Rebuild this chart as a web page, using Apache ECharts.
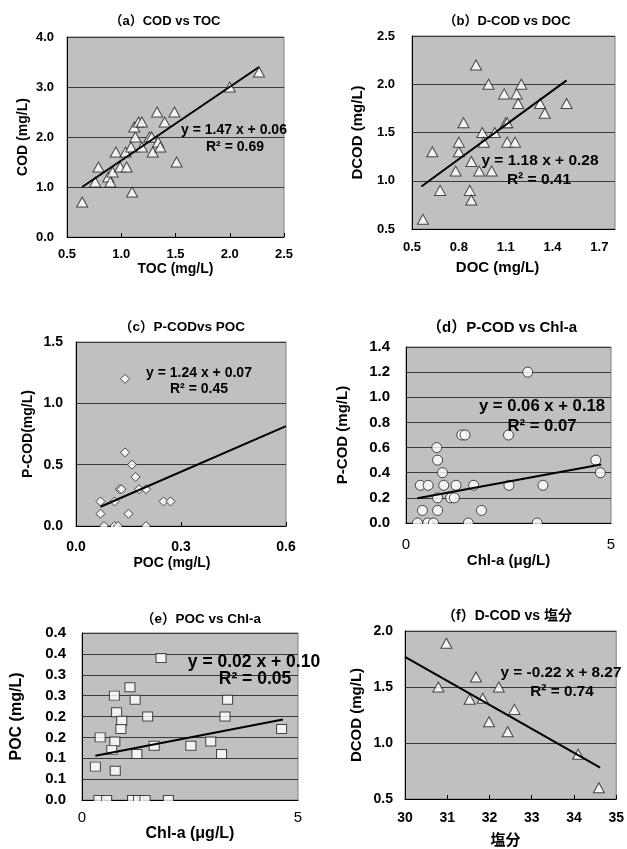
<!DOCTYPE html>
<html><head><meta charset="utf-8">
<script src="https://cdn.jsdelivr.net/npm/echarts@6/dist/echarts.min.js"></script>
<style>html,body{margin:0;padding:0;background:#fff}#c{width:627px;height:849px}</style>
</head><body><div id="c"></div>
<script>
// ---------- DATA ----------
const aX = [0.64,0.76,0.79,0.88,0.90,0.92,0.95,0.99,1.05,1.04,1.09,1.10,1.13,1.12,1.16,1.19,1.19,1.26,1.28,1.29,1.33,1.34,1.36,1.40,1.49,1.51,2.00,2.27];
const aY = [0.7,1.1,1.4,1.2,1.1,1.3,1.7,1.4,1.4,1.7,1.8,0.9,2.0,2.2,2.3,2.3,1.8,2.0,2.0,1.7,2.5,1.9,1.8,2.3,2.5,1.5,3.0,3.3];
const aTrendX = [0.64, 2.27];
const aTrendY = [1.00, 3.40];

const bX = [0.57,0.63,0.68,0.78,0.80,0.80,0.83,0.87,0.88,0.88,0.91,0.93,0.95,0.96,0.99,1.01,1.03,1.09,1.10,1.11,1.11,1.16,1.17,1.18,1.20,1.32,1.35,1.49];
const bY = [0.6,1.3,0.9,1.1,1.3,1.4,1.6,0.9,1.2,0.8,2.2,1.1,1.5,1.4,2.0,1.1,1.5,1.9,1.6,1.6,1.4,1.4,1.9,1.8,2.0,1.8,1.7,1.8];
const bTrendX = [0.56, 1.49];
const bTrendY = [0.94, 2.04];
const bXTickLabels = ['0.5','0.8','1.1','1.4','1.7'];

const cX = [0.14,0.14,0.16,0.17,0.125,0.13,0.18,0.20,0.07,0.11,0.25,0.27,0.07,0.15,0.08,0.11,0.12,0.20];
const cY = [1.2,0.6,0.5,0.4,0.3,0.3,0.3,0.3,0.2,0.2,0.2,0.2,0.1,0.1,0,0,0,0];
const cTrendX = [0.07, 0.60];
const cTrendY = [0.157, 0.814];

const dX = [2.97,1.36,1.44,2.50,0.75,0.77,4.63,0.89,4.74,0.35,0.54,0.92,1.22,1.65,2.51,3.34,0.77,1.09,1.18,0.40,0.77,1.84,0.28,0.53,0.67,1.52,3.20];
const dY = [1.2,0.7,0.7,0.7,0.6,0.5,0.5,0.4,0.4,0.3,0.3,0.3,0.3,0.3,0.3,0.3,0.2,0.2,0.2,0.1,0.1,0.1,0,0,0,0,0];
const dTrendX = [0.28, 4.76];
const dTrendY = [0.197, 0.466];

const eX = [1.83,1.11,0.75,1.23,3.37,0.80,1.52,3.31,0.92,0.90,0.42,0.76,0.69,1.67,2.52,2.98,1.27,3.23,4.62,0.31,0.77,0.39,0.57,1.17,1.31,1.46,2.00];
const eY = [0.34,0.27,0.25,0.24,0.24,0.21,0.20,0.20,0.19,0.17,0.15,0.14,0.12,0.13,0.13,0.14,0.11,0.11,0.17,0.08,0.07,0,0,0,0,0,0];
const eTrendX = [0.31, 4.65];
const eTrendY = [0.106, 0.193];
const eYTickLabels = ['0.0','0.1','0.1','0.2','0.2','0.3','0.3','0.4','0.4'];

const fX = [30.98,30.79,31.68,32.22,31.53,31.84,32.59,31.99,32.43,34.10,34.59];
const fY = [1.89,1.50,1.59,1.50,1.39,1.40,1.30,1.19,1.10,0.90,0.60];
const fTrendX = [30.0, 34.62];
const fTrendY = [1.77, 0.78];

const titles = ['（a）COD vs TOC','（b）D-COD vs DOC','（c）P-CODvs POC','（d）P-COD vs Chl-a','（e）POC vs Chl-a','（f）D-COD vs 塩分'];
const xNames = ['TOC (mg/L)','DOC (mg/L)','POC (mg/L)','Chl-a (μg/L)','Chl-a (μg/L)','塩分'];
const yNames = ['COD (mg/L)','DCOD (mg/L)','P-COD(mg/L)','P-COD (mg/L)','POC (mg/L)','DCOD (mg/L)'];
const equations = ['y = 1.47 x + 0.06','y = 1.18 x + 0.28','y = 1.24 x + 0.07','y = 0.06 x + 0.18','y = 0.02 x + 0.10','y = -0.22 x + 8.27'];
const rSquared = ['R² = 0.69','R² = 0.41','R² = 0.45','R² = 0.07','R² = 0.05','R² = 0.74'];

// ---------- LAYOUT / STYLE ----------
const FONT = '"Liberation Sans", Arial, "Noto Sans CJK JP", sans-serif';
const panels = [
  {xs:aX, ys:aY, tx:aTrendX, ty:aTrendY, sym:'triangle', size:[11,10],
   x:{min:0.5,max:2.5,interval:0.5}, y:{min:0,max:4,interval:1},
   g:{left:67,top:37,width:217,height:200}, tf:13, nf:14, xm:11, ym:13, xg:23, yg:37, xs2:0,
   title:[165,21,13], eq:[234,130,14], r2:[235,147]},
  {xs:bX, ys:bY, tx:bTrendX, ty:bTrendY, sym:'triangle', size:[11,10],
   x:{min:0.5,max:1.8,interval:0.1}, y:{min:0.5,max:2.5,interval:0.5},
   g:{left:412,top:36,width:203,height:193}, tf:13, nf:15, xm:12, ym:17, xg:31, yg:47, xs2:-16,
   title:[507,21,13], eq:[540,161,15.5], r2:[539,180]},
  {xs:cX, ys:cY, tx:cTrendX, ty:cTrendY, sym:'diamond', size:[9,9],
   x:{min:0,max:0.6,interval:0.3}, y:{min:0,max:1.5,interval:0.5},
   g:{left:76,top:342,width:210,height:184}, tf:14, nf:14, xm:14, ym:13, xg:30, yg:41, xs2:-9,
   title:[182,327,13.5], eq:[199,373,14], r2:[199,389]},
  {xs:dX, ys:dY, tx:dTrendX, ty:dTrendY, sym:'circle', size:10,
   x:{min:0,max:5,interval:5}, y:{min:0,max:1.4,interval:0.2},
   g:{left:406,top:347,width:205,height:176}, tf:15, nf:15, xm:14, ym:16, xg:21, yg:56, xs2:0,
   title:[502,328,15], eq:[542,406,16.7], r2:[542,426]},
  {xs:eX, ys:eY, tx:eTrendX, ty:eTrendY, sym:'rect', size:[10,9],
   x:{min:0,max:5,interval:5}, y:{min:0,max:0.4,interval:0.05},
   g:{left:82,top:633,width:216,height:167}, tf:15, nf:16, xm:10, ym:16, xg:19, yg:57, xs2:0,
   title:[201,619,13.5], eq:[254,662,17.5], r2:[255,679]},
  {xs:fX, ys:fY, tx:fTrendX, ty:fTrendY, sym:'triangle', size:[11,10],
   x:{min:30,max:35,interval:1}, y:{min:0.5,max:2,interval:0.5},
   g:{left:405,top:631,width:214,height:168}, tf:14, nf:15, xm:12, ym:12, xg:34, yg:41, xs2:-5,
   title:[507,616,14], eq:[561,673,15.3], r2:[562,692]}
];

const grids = [], xAxes = [], yAxes = [], series = [], graphics = [];
panels.forEach((p, i) => {
  grids.push(Object.assign({show:true, backgroundColor:'#c0c0c0', borderColor:'#808080', borderWidth:1, containLabel:false}, p.g));
  const plainX = (i === 3 || i === 4);
  xAxes.push({
    type:'value', gridIndex:i, min:p.x.min, max:p.x.max, interval:p.x.interval,
    name:xNames[i], nameLocation:'middle', nameGap:p.xg,
    nameTextStyle:{color:'#000', fontWeight:'bold', fontSize:p.nf, fontFamily:FONT,
      padding: p.xs2 < 0 ? [0, -2*p.xs2, 0, 0] : [0,0,0,0]},
    axisLine:{show:true, lineStyle:{color:'#000', width:1}},
    axisTick:{show:!plainX && i !== 1, inside:true, length:4, lineStyle:{color:'#000'}},
    splitLine:{show:false},
    axisLabel:{color:'#000', fontWeight: plainX ? 'normal' : 'bold', fontSize:p.tf, fontFamily:FONT, margin:p.xm,
      formatter: function(v){
        if (i === 1) { const s = v.toFixed(1); return bXTickLabels.indexOf(s) >= 0 ? s : ''; }
        if (plainX) return String(Math.round(v));
        if (i === 5) return String(Math.round(v));
        return v.toFixed(1);
      }}
  });
  yAxes.push({
    type:'value', gridIndex:i, min:p.y.min, max:p.y.max, interval:p.y.interval,
    name:yNames[i], nameLocation:'middle', nameGap:p.yg,
    nameTextStyle:{color:'#000', fontWeight:'bold', fontSize:p.nf, fontFamily:FONT},
    axisLine:{show:true, lineStyle:{color:'#000', width:1}},
    axisTick:{show:false},
    splitLine:{show:true, lineStyle:{color:'#3a3a3a', width:1}},
    axisLabel:{color:'#000', fontWeight:'bold', fontSize:p.tf, fontFamily:FONT, margin:p.ym,
      formatter: function(v){
        if (i === 4) return eYTickLabels[Math.round(v/0.05)];
        return v.toFixed(1);
      }}
  });
  series.push({
    type:'scatter', xAxisIndex:i, yAxisIndex:i, symbol:p.sym, symbolSize:p.size,
    data:p.xs.map((x, k) => [x, p.ys[k]]),
    itemStyle:{color:'#ffffff', borderColor:'#222', borderWidth:1},
    z:3, silent:true
  });
  series.push({
    type:'line', xAxisIndex:i, yAxisIndex:i, symbol:'none',
    data:p.tx.map((x, k) => [x, p.ty[k]]),
    lineStyle:{color:'#000', width:2}, z:4, silent:true
  });
  // mask under plot bottom (symbols clipped at plot edge like reference)
  graphics.push({type:'rect', z:50, shape:{x:p.g.left - 1, y:p.g.top + p.g.height + 1, width:p.g.width + 2, height:7},
    style:{fill:'#ffffff'}});
  graphics.push({type:'text', z:60, x:p.title[0], y:p.title[1],
    style:{text:titles[i], font:'bold ' + p.title[2] + 'px ' + FONT, fill:'#000', align:'center', verticalAlign:'middle', textAlign:'center', textVerticalAlign:'middle'}});
  graphics.push({type:'text', z:60, x:p.eq[0], y:p.eq[1],
    style:{text:equations[i], font:'bold ' + p.eq[2] + 'px ' + FONT, fill:'#000', align:'center', verticalAlign:'middle', textAlign:'center', textVerticalAlign:'middle'}});
  graphics.push({type:'text', z:60, x:p.r2[0], y:p.r2[1],
    style:{text:rSquared[i], font:'bold ' + p.eq[2] + 'px ' + FONT, fill:'#000', align:'center', verticalAlign:'middle', textAlign:'center', textVerticalAlign:'middle'}});
});

const chart = echarts.init(document.getElementById('c'), null, {renderer:'canvas'});
chart.setOption({
  backgroundColor:'#ffffff',
  animation:false,
  grid:grids, xAxis:xAxes, yAxis:yAxes, series:series,
  graphic:{elements:graphics}
});
</script>
</body></html>
